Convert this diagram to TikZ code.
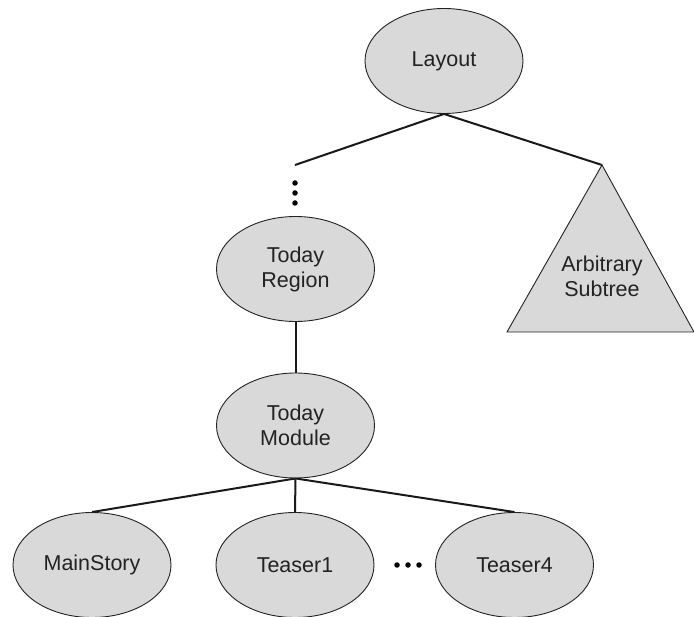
\documentclass[tikz,border=0pt]{standalone}
\usepackage{fontspec}
\setmainfont{Liberation Sans}
\usetikzlibrary{shapes.geometric}
\definecolor{nodefill}{HTML}{D9D9D9}
\definecolor{inkgray}{HTML}{222222}
\tikzset{
  treenode/.style={ellipse, draw=inkgray, line width=0.9pt, fill=nodefill,
    minimum width=158pt, minimum height=105pt, inner sep=0pt,
    align=center, text=inkgray,
    font=\fontsize{21.5}{25}\selectfont},
  edge/.style={draw=black!90, line width=2pt},
  dot/.style={circle, fill=black, inner sep=0pt, minimum size=5.5pt}
}
\begin{document}
\begin{tikzpicture}[x=1pt, y=-1pt]
  \useasboundingbox (0,0) rectangle (694,617);

  % ellipse nodes of the tree
  \node[treenode] (layout) at (444,61) {Layout};
  \node[treenode] (region) at (295.5,269) {Today\\Region};
  \node[treenode] (module) at (295.5,425.5) {Today\\Module};
  \node[treenode] (main) at (92,565) {MainStory};
  \node[treenode] (teaser1) at (295,565) {Teaser1};
  \node[treenode] (teaser4) at (514.5,565) {Teaser4};

  % subtree triangle
  \coordinate (apex) at (602,165);
  \coordinate (baseL) at (507,332);
  \coordinate (baseR) at (694,332);
  \draw[draw=inkgray, line width=0.9pt, fill=nodefill] (apex) -- (baseL) -- (baseR) -- cycle;
  \node[align=center, text=inkgray, font=\fontsize{21.5}{25}\selectfont] (subtree) at (602,276) {Arbitrary\\Subtree};

  % open end of the left branch
  \coordinate (branch) at (295,165);

  % connectors
  \draw[edge] (layout.south) -- (branch);
  \draw[edge] (layout.south) -- (apex);
  \draw[edge] (region.south) -- (module.north);
  \draw[edge] (module.south) -- (main.north);
  \draw[edge] (module.south) -- (teaser1.north);
  \draw[edge] (module.south) -- (teaser4.north);

  % vertical ellipsis
  \node[dot] (v1) at (295,183) {};
  \node[dot] (v2) at (295,193) {};
  \node[dot] (v3) at (295,203) {};

  % horizontal ellipsis
  \node[dot] (h1) at (397,565) {};
  \node[dot] (h2) at (408,565) {};
  \node[dot] (h3) at (419,565) {};
\end{tikzpicture}
\end{document}
